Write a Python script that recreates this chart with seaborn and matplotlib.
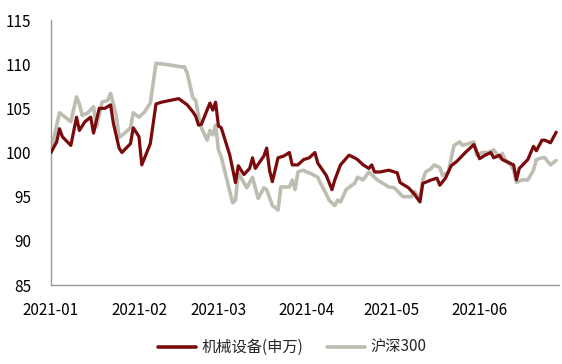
import pandas as pd
import seaborn as sns
import matplotlib.pyplot as plt
import matplotlib.dates as mdates

# 机械设备(申万) index, rebased to 100
mach_dates = ['2021-01-01', '2021-01-03', '2021-01-04', '2021-01-05', '2021-01-08', '2021-01-10',
              '2021-01-11', '2021-01-13', '2021-01-15', '2021-01-16', '2021-01-18', '2021-01-20',
              '2021-01-22', '2021-01-23', '2021-01-25', '2021-01-26', '2021-01-29', '2021-01-30',
              '2021-02-01', '2021-02-02', '2021-02-05', '2021-02-07', '2021-02-09', '2021-02-15',
              '2021-02-18', '2021-02-20', '2021-02-21', '2021-02-22', '2021-02-23', '2021-02-26',
              '2021-02-27', '2021-02-28', '2021-03-01', '2021-03-02', '2021-03-05', '2021-03-07',
              '2021-03-08', '2021-03-10', '2021-03-12', '2021-03-13', '2021-03-14', '2021-03-17',
              '2021-03-18', '2021-03-19', '2021-03-20', '2021-03-22', '2021-03-24', '2021-03-26',
              '2021-03-27', '2021-03-29', '2021-03-31', '2021-04-02', '2021-04-04', '2021-04-05',
              '2021-04-08', '2021-04-10', '2021-04-11', '2021-04-13', '2021-04-16', '2021-04-18',
              '2021-04-19', '2021-04-21', '2021-04-23', '2021-04-24', '2021-04-25', '2021-04-27',
              '2021-04-30', '2021-05-03', '2021-05-04', '2021-05-07', '2021-05-09', '2021-05-11',
              '2021-05-12', '2021-05-15', '2021-05-17', '2021-05-18', '2021-05-20', '2021-05-22',
              '2021-05-24', '2021-05-27', '2021-05-30', '2021-06-01', '2021-06-03', '2021-06-05',
              '2021-06-06', '2021-06-08', '2021-06-09', '2021-06-13', '2021-06-14', '2021-06-15',
              '2021-06-18', '2021-06-20', '2021-06-21', '2021-06-23', '2021-06-24', '2021-06-26',
              '2021-06-28']
mach_vals = [100.0, 101.2, 102.7, 101.8, 100.8, 104.0,
             102.5, 103.5, 104.0, 102.2, 105.0, 105.0,
             105.4, 103.3, 100.5, 100.0, 101.0, 102.8,
             101.8, 98.6, 101.0, 105.5, 105.7, 106.1,
             105.4, 104.6, 104.1, 103.1, 103.2, 105.6,
             104.8, 105.7, 103.0, 102.8, 99.7, 96.6,
             98.5, 97.5, 98.2, 99.4, 98.2, 99.6,
             100.5, 98.0, 96.7, 99.4, 99.6, 100.0,
             98.6, 98.6, 99.2, 99.4, 100.0, 98.8,
             97.4, 95.8, 96.9, 98.6, 99.7, 99.4,
             99.2, 98.6, 98.2, 98.6, 97.8, 97.8,
             98.0, 97.7, 96.6, 96.0, 95.3, 94.4,
             96.5, 96.9, 97.1, 96.3, 97.1, 98.5,
             99.0, 100.0, 100.9, 99.3, 99.7, 100.0,
             99.4, 99.7, 99.2, 98.6, 96.9, 98.2,
             99.2, 100.7, 100.2, 101.4, 101.4, 101.1,
             102.3]

# 沪深300 index, rebased to 100
hs_dates = ['2021-01-01', '2021-01-02', '2021-01-04', '2021-01-08', '2021-01-10', '2021-01-11',
            '2021-01-12', '2021-01-14', '2021-01-16', '2021-01-17', '2021-01-19', '2021-01-21',
            '2021-01-22', '2021-01-24', '2021-01-25', '2021-01-27', '2021-01-29', '2021-01-30',
            '2021-02-01', '2021-02-03', '2021-02-05', '2021-02-07', '2021-02-10', '2021-02-16',
            '2021-02-17', '2021-02-18', '2021-02-20', '2021-02-21', '2021-02-22', '2021-02-23',
            '2021-02-25', '2021-02-26', '2021-02-27', '2021-02-28', '2021-03-01', '2021-03-02',
            '2021-03-04', '2021-03-06', '2021-03-07', '2021-03-08', '2021-03-11', '2021-03-13',
            '2021-03-15', '2021-03-17', '2021-03-18', '2021-03-20', '2021-03-22', '2021-03-23',
            '2021-03-26', '2021-03-27', '2021-03-28', '2021-03-29', '2021-03-31', '2021-04-01',
            '2021-04-02', '2021-04-05', '2021-04-06', '2021-04-08', '2021-04-09', '2021-04-11',
            '2021-04-12', '2021-04-13', '2021-04-15', '2021-04-17', '2021-04-18', '2021-04-19',
            '2021-04-21', '2021-04-23', '2021-04-24', '2021-04-26', '2021-04-28', '2021-04-30',
            '2021-05-02', '2021-05-05', '2021-05-08', '2021-05-09', '2021-05-11', '2021-05-12',
            '2021-05-13', '2021-05-15', '2021-05-16', '2021-05-18', '2021-05-19', '2021-05-21',
            '2021-05-23', '2021-05-25', '2021-05-26', '2021-05-28', '2021-05-30', '2021-05-31',
            '2021-06-02', '2021-06-04', '2021-06-06', '2021-06-08', '2021-06-09', '2021-06-10',
            '2021-06-12', '2021-06-13', '2021-06-14', '2021-06-16', '2021-06-18', '2021-06-20',
            '2021-06-21', '2021-06-23', '2021-06-24', '2021-06-26', '2021-06-28']
hs_vals = [100.0, 101.6, 104.5, 103.5, 106.3, 105.5,
           104.2, 104.5, 105.2, 102.9, 105.7, 105.9,
           106.7, 104.2, 101.7, 102.2, 102.8, 104.5,
           104.0, 104.6, 105.6, 110.1, 110.0, 109.7,
           109.7, 109.0, 106.2, 105.9, 104.1, 102.8,
           101.4, 102.5, 102.0, 103.1, 100.3, 99.5,
           96.9, 94.3, 94.6, 97.7, 96.0, 97.2,
           94.8, 96.0, 95.8, 94.0, 93.5, 96.1,
           96.1, 96.9, 95.8, 97.8, 98.0, 97.8,
           97.7, 97.2, 96.5, 95.3, 94.6, 94.0,
           94.6, 94.4, 95.8, 96.3, 96.5, 97.2,
           96.9, 97.8, 97.5, 96.9, 96.5, 96.1,
           96.0, 95.0, 95.0, 95.6, 94.8, 96.9,
           97.8, 98.2, 98.6, 98.3, 97.4, 97.8,
           100.8, 101.2, 100.8, 101.0, 101.2, 99.7,
           100.0, 100.0, 100.3, 99.4, 99.9, 99.2,
           98.6, 98.0, 96.6, 96.9, 96.9, 98.0,
           99.2, 99.4, 99.4, 98.6, 99.1]

series_names = ['机械设备(申万)', '沪深300']
series_colors = ['#7a0a0c', '#bebdb2']
y_ticks = [85, 90, 95, 100, 105, 110, 115]

df = pd.concat([
    pd.DataFrame({'date': pd.to_datetime(mach_dates), 'value': mach_vals, 'series': series_names[0]}),
    pd.DataFrame({'date': pd.to_datetime(hs_dates), 'value': hs_vals, 'series': series_names[1]}),
])

sns.set_style('white')
plt.rcParams['font.family'] = ['Noto Sans CJK SC', 'DejaVu Sans']

fig = plt.figure(figsize=(5.62, 3.64), dpi=100)
ax = fig.add_axes([0.0907, 0.217, 0.904, 0.728])

sns.lineplot(data=df, x='date', y='value', hue='series', hue_order=series_names,
             palette=dict(zip(series_names, series_colors)), linewidth=2.3,
             ax=ax, legend=False)
# red line on top of the gray one
ax.lines[0].set_zorder(3)
ax.lines[1].set_linewidth(2.6)

ax.set_xlim(pd.Timestamp('2021-01-01'), pd.Timestamp('2021-06-29'))
ax.set_ylim(85, 115)
ax.set_yticks(y_ticks)
ax.xaxis.set_major_locator(mdates.MonthLocator())
ax.xaxis.set_major_formatter(mdates.DateFormatter('%Y-%m'))
ax.set_xlabel('')
ax.set_ylabel('')

for side in ['top', 'right']:
    ax.spines[side].set_visible(False)
for side in ['left', 'bottom']:
    ax.spines[side].set_color('#999999')
    ax.spines[side].set_linewidth(1.0)

ax.tick_params(axis='y', length=0, pad=14, labelsize=11, colors='#000000')
ax.tick_params(axis='x', direction='in', length=6, width=1, color='#999999',
               pad=12, labelsize=11, labelcolor='#000000')

handles = [plt.Line2D([], [], color=c, linewidth=2.6) for c in series_colors]
fig.legend(handles, series_names, loc='center', bbox_to_anchor=(0.52, 0.045), ncol=2,
           frameon=False, fontsize=11, handlelength=2.5, handletextpad=0.4,
           columnspacing=1.5)

fig.savefig('out.png', dpi=100)
